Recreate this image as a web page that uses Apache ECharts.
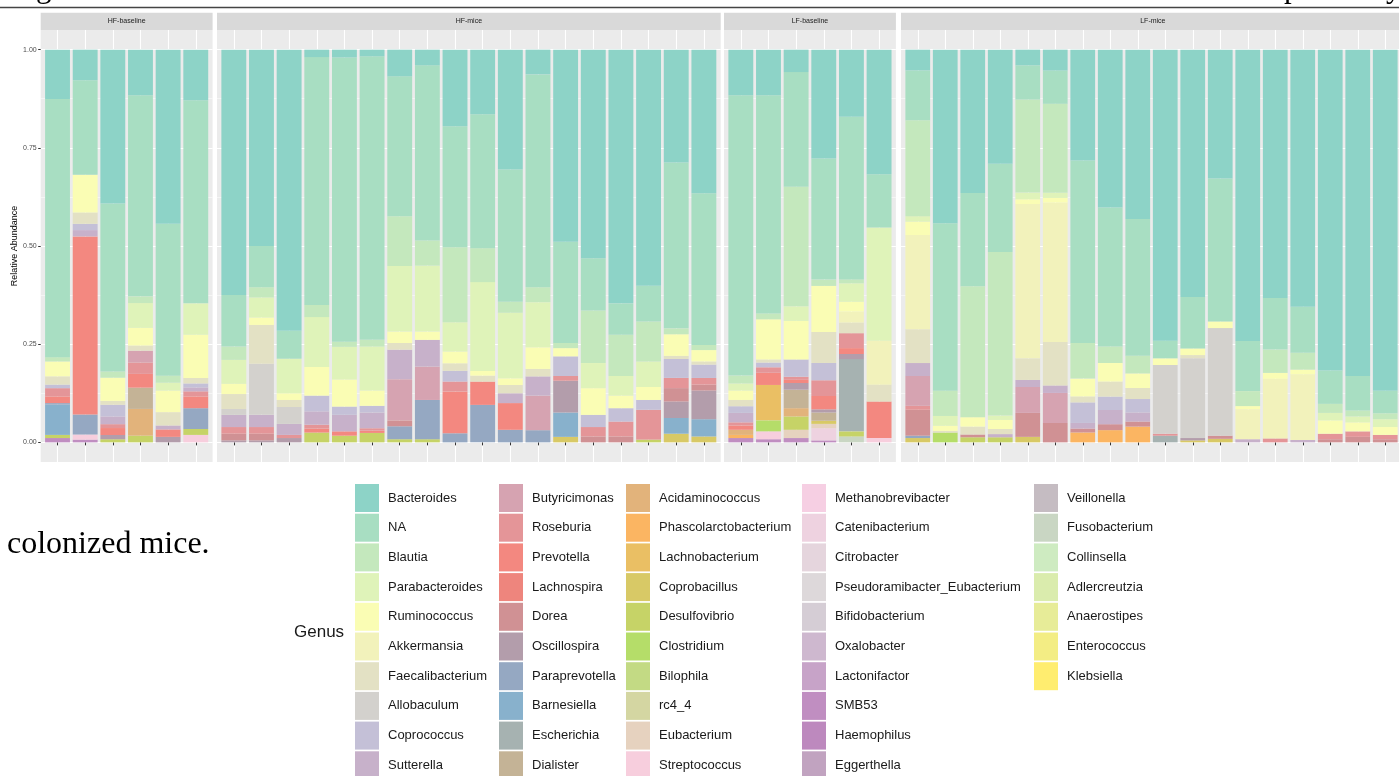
<!DOCTYPE html>
<html>
<head>
<meta charset="utf-8">
<script src="https://cdn.jsdelivr.net/npm/echarts@6/dist/echarts.min.js"></script>
<style>
  html, body { margin: 0; background: #fff; }
  #chart { width: 1399px; height: 776px; }
</style>
</head>
<body>
<div id="chart"></div>
<script>
// samples: HF-baseline 6 | HF-mice 18 | LF-baseline 6 | LF-mice 18
const panelNames = ['HF-baseline', 'HF-mice', 'LF-baseline', 'LF-mice'];
const panelSizes = [6, 18, 6, 18];
const yTicks = [0, 0.25, 0.5, 0.75, 1];
const yMinorTicks = [0.125, 0.375, 0.625, 0.875];

const genera = [
  'Bacteroides', 'NA', 'Blautia', 'Parabacteroides', 'Ruminococcus', 'Akkermansia', 'Faecalibacterium', 'Allobaculum', 'Coprococcus', 'Sutterella',
  'Butyricimonas', 'Roseburia', 'Prevotella', 'Lachnospira', 'Dorea', 'Oscillospira', 'Paraprevotella', 'Barnesiella', 'Escherichia', 'Dialister',
  'Acidaminococcus', 'Phascolarctobacterium', 'Lachnobacterium', 'Coprobacillus', 'Desulfovibrio', 'Clostridium', 'Bilophila', 'rc4_4', 'Eubacterium', 'Streptococcus',
  'Methanobrevibacter', 'Catenibacterium', 'Citrobacter', 'Pseudoramibacter_Eubacterium', 'Bifidobacterium', 'Oxalobacter', 'Lactonifactor', 'SMB53', 'Haemophilus', 'Eggerthella',
  'Veillonella', 'Fusobacterium', 'Collinsella', 'Adlercreutzia', 'Anaerostipes', 'Enterococcus', 'Klebsiella'
];

const bacteroides = [
  .126, .078, .397, .116, .444, .129,
  .625, .500, .716, .019, .020, .017, .068, .040, .194, .164, .305, .063, .489, .531, .646, .601, .287, .366,
  .116, .116, .057, .277, .171, .317,
  .053, .441, .364, .290, .040, .053, .280, .400, .430, .741, .629, .328, .739, .629, .654, .817, .831, .868
];
const na = [
  .657, .241, .434, .511, .387, .517,
  .131, .105, .071, .631, .723, .722, .356, .446, .306, .339, .337, .542, .258, .133, .080, .091, .422, .386,
  .714, .555, .292, .308, .414, .136,
  .127, .425, .237, .224, .087, .084, .461, .352, .347, .045, .131, .364, .127, .131, .117, .085, .088, .057
];
const blautia = [
  .011, 0, .016, .017, .018, 0,
  .034, .026, 0, .031, .013, .017, .127, .064, .190, .086, .028, .038, .013, .134, .105, .102, .015, .013,
  .020, .015, .304, .016, .010, 0,
  .244, .064, .333, .416, .237, .225, .090, .042, .045, 0, 0, 0, .038, .059, .043, .023, .015, .015
];
const parabacteroides = [
  0, 0, 0, .063, .020, .080,
  .061, .051, .088, .127, .083, .112, .167, .168, .074, .225, .167, .115, 0, .064, .050, .065, 0, 0,
  .018, 0, .037, 0, .047, .288,
  .014, .025, 0, .011, .017, .013, 0, 0, 0, 0, 0, 0, 0, 0, 0, .019, .015, .020
];
const ruminococcus = [
  .038, .096, .060, .045, .055, .110,
  .026, .019, .017, .073, .069, .039, .029, .021, .030, .012, .017, .055, .021, .068, .032, .033, .055, .029,
  .024, .102, .098, .117, .025, 0,
  .034, .013, .024, .023, .012, .012, .045, .047, .037, .017, .017, .017, .008, .015, .012, .034, .023, .020
];
const akkermansia = [
  0, 0, 0, 0, 0, 0,
  0, 0, 0, 0, 0, 0, 0, 0, 0, 0, 0, 0, 0, 0, 0, 0, 0, 0,
  0, 0, 0, 0, .028, .112,
  .240, 0, 0, 0, .393, .352, 0, 0, 0, 0, 0, 0, .076, .151, .167, 0, 0, 0
];
const faecalibacterium = [
  .021, .029, .010, .013, .034, .014,
  .038, .099, .018, 0, 0, 0, .017, 0, .019, .015, .021, .019, 0, 0, 0, 0, .008, .008,
  .016, .008, 0, .079, .027, .043,
  .086, .004, .020, .013, .055, .110, .015, .038, .028, 0, .008, 0, 0, 0, 0, 0, 0, 0
];
const allobaculum = [
  0, 0, 0, 0, 0, 0,
  .015, .130, .043, 0, 0, 0, 0, 0, 0, 0, 0, 0, 0, 0, 0, 0, 0, 0,
  0, 0, 0, 0, 0, 0,
  0, 0, 0, 0, 0, 0, 0, 0, 0, .175, .203, .274, 0, 0, 0, 0, 0, 0
];
const coprococcus = [
  .009, .016, .030, 0, 0, .010,
  0, 0, 0, .040, .021, .017, 0, 0, .027, 0, 0, 0, .050, .031, .034, .025, .048, .034,
  .017, .012, .044, .044, 0, 0,
  0, 0, 0, 0, 0, 0, .052, .034, .034, 0, 0, 0, 0, 0, 0, 0, 0, 0
];
const sutterella = [
  0, .016, .020, 0, .010, .010,
  .031, .031, .028, .034, .042, .040, .075, .068, 0, 0, .025, .049, 0, 0, 0, 0, 0, 0,
  .024, 0, 0, 0, 0, 0,
  .033, 0, 0, .008, .018, .019, .014, .036, .023, 0, 0, 0, .008, 0, .006, 0, 0, 0
];
const butyricimonas = [
  0, 0, 0, .030, 0, 0,
  0, 0, 0, 0, 0, 0, .105, .085, 0, 0, 0, .088, 0, 0, 0, 0, 0, 0,
  0, 0, 0, 0, 0, 0,
  .076, 0, 0, 0, .066, .076, 0, 0, 0, 0, 0, 0, 0, 0, 0, 0, 0, 0
];
const roseburia = [
  .021, 0, .010, .029, 0, .013,
  .017, .017, .008, .010, 0, .006, 0, 0, .025, 0, 0, 0, .012, .024, .038, .076, .026, .017,
  .008, .014, .008, .040, .038, 0,
  .010, 0, 0, 0, 0, 0, 0, 0, 0, .005, 0, 0, 0, .010, 0, .014, .014, .011
];
const prevotella = [
  .017, .454, .018, .035, .019, .030,
  0, 0, 0, .010, .011, .006, 0, 0, .106, .059, .068, 0, 0, 0, 0, 0, 0, 0,
  .011, .031, .008, .034, .015, .093,
  0, 0, 0, 0, 0, 0, 0, 0, 0, 0, 0, 0, 0, 0, 0, 0, 0, 0
];
const dorea = [
  0, 0, 0, 0, 0, 0,
  .017, .017, 0, 0, 0, 0, .015, 0, 0, 0, 0, 0, 0, .015, .015, 0, .034, .015,
  0, 0, 0, 0, 0, 0,
  .066, 0, .007, 0, .061, .049, .010, .015, .013, 0, 0, .008, 0, 0, 0, .008, .014, .008
];
const oscillospira = [
  0, 0, .011, 0, .014, 0,
  .005, .005, .011, 0, 0, 0, 0, 0, 0, 0, 0, 0, .081, 0, 0, 0, .042, .073,
  0, 0, .017, .008, .013, 0,
  0, 0, 0, 0, 0, 0, 0, 0, 0, 0, .006, 0, 0, 0, 0, 0, 0, 0
];
const paraprevotella = [
  .004, .051, 0, 0, 0, .053,
  0, 0, 0, 0, 0, 0, .033, .100, .023, .095, .032, .031, 0, 0, 0, 0, 0, 0,
  0, 0, 0, 0, 0, 0,
  .006, 0, 0, 0, 0, 0, 0, 0, 0, 0, 0, 0, 0, 0, 0, 0, 0, 0
];
const barnesiella = [
  .077, 0, 0, 0, 0, 0,
  0, 0, 0, 0, 0, 0, 0, 0, 0, 0, 0, 0, .062, 0, 0, 0, .040, .044,
  0, 0, 0, 0, 0, 0,
  0, 0, 0, 0, 0, 0, 0, 0, 0, 0, 0, 0, 0, 0, 0, 0, 0, 0
];
const escherichia = [
  0, 0, 0, 0, 0, 0,
  0, 0, 0, 0, 0, 0, 0, 0, 0, 0, 0, 0, 0, 0, 0, 0, 0, 0,
  0, 0, 0, 0, .184, 0,
  0, 0, 0, 0, 0, 0, 0, 0, 0, .017, 0, 0, 0, 0, 0, 0, 0, 0
];
const dialister = [
  0, 0, 0, .054, 0, 0,
  0, 0, 0, 0, 0, 0, 0, 0, 0, 0, 0, 0, 0, 0, 0, 0, 0, 0,
  0, 0, .047, .021, 0, 0,
  0, 0, 0, 0, 0, 0, 0, 0, 0, 0, 0, 0, 0, 0, 0, 0, 0, 0
];
const acidaminococcus = [
  0, 0, 0, .068, 0, 0,
  0, 0, 0, 0, 0, 0, 0, 0, 0, 0, 0, 0, 0, 0, 0, 0, 0, 0,
  .013, 0, .021, 0, 0, 0,
  0, 0, 0, 0, 0, 0, 0, 0, 0, 0, 0, 0, 0, 0, 0, 0, 0, 0
];
const phascolarctobacterium = [
  0, 0, 0, 0, 0, 0,
  0, 0, 0, 0, 0, 0, 0, 0, 0, 0, 0, 0, 0, 0, 0, 0, 0, 0,
  .008, 0, 0, 0, 0, 0,
  0, 0, 0, 0, 0, 0, .025, .031, .040, 0, 0, 0, 0, 0, 0, 0, 0, 0
];
const lachnobacterium = [
  0, 0, 0, 0, 0, 0,
  0, 0, 0, 0, 0, 0, 0, 0, 0, 0, 0, 0, 0, 0, 0, 0, 0, 0,
  0, .090, 0, 0, 0, 0,
  0, 0, 0, 0, 0, 0, 0, 0, 0, 0, 0, 0, 0, 0, 0, 0, 0, 0
];
const coprobacillus = [
  0, 0, 0, 0, 0, 0,
  0, 0, 0, 0, 0, 0, 0, 0, 0, 0, 0, 0, .014, 0, 0, 0, .022, .015,
  0, 0, 0, .008, 0, 0,
  .011, 0, 0, 0, .014, 0, 0, 0, 0, 0, .005, .009, 0, 0, 0, 0, 0, 0
];
const desulfovibrio = [
  .008, 0, .008, .017, 0, .015,
  0, 0, 0, .025, .017, .024, .008, .008, 0, 0, 0, 0, 0, 0, 0, .007, 0, 0,
  0, 0, .034, 0, .013, 0,
  0, 0, .013, .013, 0, 0, 0, 0, 0, 0, 0, 0, 0, 0, 0, 0, 0, 0
];
const clostridium = [
  0, 0, 0, 0, 0, 0,
  0, 0, 0, 0, 0, 0, 0, 0, 0, 0, 0, 0, 0, 0, 0, 0, 0, 0,
  0, .028, 0, 0, 0, 0,
  0, .025, 0, 0, 0, 0, 0, 0, 0, 0, 0, 0, 0, 0, 0, 0, 0, 0
];
const eubacterium = [
  0, 0, 0, 0, 0, 0,
  0, 0, 0, 0, 0, 0, 0, 0, 0, 0, 0, 0, 0, 0, 0, 0, 0, 0,
  0, 0, .021, .011, 0, 0,
  0, 0, 0, 0, 0, 0, 0, 0, 0, 0, 0, 0, 0, 0, 0, 0, 0, 0
];
const streptococcus = [
  0, .013, 0, 0, 0, .019,
  0, 0, 0, 0, 0, 0, 0, 0, 0, 0, 0, 0, 0, 0, 0, 0, 0, 0,
  0, .020, 0, 0, 0, .011,
  0, 0, 0, 0, 0, 0, 0, 0, 0, 0, 0, 0, 0, 0, 0, 0, 0, 0
];
const catenibacterium = [
  0, 0, 0, 0, 0, 0,
  0, 0, 0, 0, 0, 0, 0, 0, 0, 0, 0, 0, 0, 0, 0, 0, 0, 0,
  0, 0, 0, .031, 0, 0,
  0, 0, 0, 0, 0, 0, 0, 0, 0, 0, 0, 0, 0, 0, 0, 0, 0, 0
];
const smb53 = [
  .011, .007, 0, 0, 0, 0,
  0, 0, 0, 0, 0, 0, 0, 0, 0, 0, 0, 0, 0, 0, 0, 0, 0, 0,
  .011, .008, .011, .005, 0, 0,
  0, 0, 0, 0, 0, 0, 0, 0, 0, 0, 0, 0, 0, 0, 0, 0, 0, 0
];
const fusobacterium = [
  0, 0, 0, 0, 0, 0,
  0, 0, 0, 0, 0, 0, 0, 0, 0, 0, 0, 0, 0, 0, 0, 0, 0, 0,
  0, 0, 0, 0, .015, 0,
  0, 0, 0, 0, 0, 0, 0, 0, 0, 0, 0, 0, 0, 0, 0, 0, 0, 0
];

const abundance = {
  Bacteroides: bacteroides, NA: na, Blautia: blautia, Parabacteroides: parabacteroides,
  Ruminococcus: ruminococcus, Akkermansia: akkermansia, Faecalibacterium: faecalibacterium,
  Allobaculum: allobaculum, Coprococcus: coprococcus, Sutterella: sutterella,
  Butyricimonas: butyricimonas, Roseburia: roseburia, Prevotella: prevotella, Dorea: dorea,
  Oscillospira: oscillospira, Paraprevotella: paraprevotella, Barnesiella: barnesiella,
  Escherichia: escherichia, Dialister: dialister, Acidaminococcus: acidaminococcus,
  Phascolarctobacterium: phascolarctobacterium, Lachnobacterium: lachnobacterium,
  Coprobacillus: coprobacillus, Desulfovibrio: desulfovibrio, Clostridium: clostridium,
  Eubacterium: eubacterium, Streptococcus: streptococcus, Catenibacterium: catenibacterium,
  SMB53: smb53, Fusobacterium: fusobacterium
};

// Set3 palette stretched to 47 colours, like colorRampPalette in R
const set3 = ['#8DD3C7', '#FFFFB3', '#BEBADA', '#FB8072', '#80B1D3', '#FDB462',
  '#B3DE69', '#FCCDE5', '#D9D9D9', '#BC80BD', '#CCEBC5', '#FFED6F'];
function ramp(stops, n) {
  const rgb = stops.map(h => [1, 3, 5].map(i => parseInt(h.slice(i, i + 2), 16)));
  const out = [];
  for (let i = 0; i < n; i++) {
    const t = i * (stops.length - 1) / (n - 1);
    const k = Math.min(Math.floor(t), stops.length - 2);
    const f = t - k;
    const c = rgb[k].map((v, j) => Math.round(v + (rgb[k + 1][j] - v) * f));
    out.push('rgb(' + c.join(',') + ')');
  }
  return out;
}
const colors = ramp(set3, genera.length);

// relative abundance: each sample scaled to sum 1
const nSamples = bacteroides.length;
const totals = [];
for (let i = 0; i < nSamples; i++) {
  let s = 0;
  genera.forEach(g => { if (abundance[g]) s += abundance[g][i]; });
  totals.push(s);
}

// panel geometry (pixels)
const panelLeft = [40.7, 217, 724, 901];
const panelTop = 30, panelHeight = 432;
const pad = 3, step = 27.65;

const grid = [], xAxis = [], yAxis = [], series = [], graphic = [];
let offset = 0;
panelNames.forEach((name, p) => {
  const n = panelSizes[p];
  const pw = n * step + 2 * pad;
  const L = panelLeft[p];
  // background grid carries horizontal grid lines
  grid.push({ left: L, top: panelTop, width: pw, height: panelHeight, show: true, backgroundColor: '#EBEBEB', borderWidth: 0 });
  // bar grid
  grid.push({ left: L + pad, top: panelTop, width: n * step, height: panelHeight });
  xAxis.push({ type: 'value', gridIndex: 2 * p, show: false });
  xAxis.push({
    type: 'category', gridIndex: 2 * p + 1,
    data: Array.from({ length: n }, (_, i) => name + ' ' + (i + 1)),
    axisLine: { show: false },
    axisTick: { show: true, interval: 0, alignWithLabel: true, length: 3, lineStyle: { color: '#333', width: 1 } },
    axisLabel: { show: false, interval: 0 },
    splitLine: { show: true, interval: 0, alignWithLabel: true, lineStyle: { color: '#fff', width: 1.1 } }
  });
  const first = p === 0;
  yAxis.push({
    type: 'value', gridIndex: 2 * p, min: -0.05, max: 1.05,
    axisLine: { show: false },
    axisTick: { show: first, customValues: yTicks, length: 2.5, lineStyle: { color: '#333' } },
    axisLabel: { show: first, customValues: yTicks, fontSize: 7, color: '#4D4D4D', margin: 4, fontFamily: 'Liberation Sans',
      formatter: v => v.toFixed(2) },
    splitLine: { show: true, lineStyle: { color: '#fff', width: 1.1 } }
  });
  yAxis.push({
    type: 'value', gridIndex: 2 * p, min: -0.05, max: 1.05,
    axisLine: { show: false },
    axisTick: { show: false, customValues: yMinorTicks },
    axisLabel: { show: false, customValues: yMinorTicks },
    splitLine: { show: true, lineStyle: { color: '#fff', width: 0.5 } }
  });
  yAxis.push({ type: 'value', gridIndex: 2 * p + 1, min: -0.05, max: 1.05, show: false });

  // strip
  graphic.push({ type: 'rect', shape: { x: L, y: 12.7, width: pw, height: 17.3 }, style: { fill: '#D9D9D9' } });
  graphic.push({ type: 'text', x: L + pw / 2, y: 21.5,
    style: { text: name, fontSize: 7, fill: '#1A1A1A', fontFamily: 'Liberation Sans', align: 'center', verticalAlign: 'middle' } });

  // stacked bars, first genus on top
  for (let g = genera.length - 1; g >= 0; g--) {
    const vals = abundance[genera[g]];
    series.push({
      type: 'bar', name: genera[g], xAxisIndex: 2 * p + 1, yAxisIndex: 3 * p + 2,
      stack: 'panel' + p, barWidth: '90%',
      itemStyle: { color: colors[g] },
      emphasis: { disabled: true },
      data: Array.from({ length: n }, (_, i) => vals ? vals[offset + i] / totals[offset + i] : 0)
    });
  }
  offset += n;
});

// page furniture around the figure
graphic.push({ type: 'line', shape: { x1: 0, y1: 7.5, x2: 1399, y2: 7.5 }, style: { stroke: '#444', lineWidth: 1.5 } });
[['g', 36], ['p', 1284], ['y', 1386]].forEach(([t, x]) => {
  graphic.push({ type: 'text', x: x, y: 4,
    style: { text: t, fontSize: 31, fill: '#000', fontFamily: 'Liberation Serif', verticalAlign: 'bottom' } });
});
graphic.push({ type: 'text', x: 7, y: 545,
  style: { text: 'colonized mice.', fontSize: 32, fill: '#000', fontFamily: 'Liberation Serif', verticalAlign: 'middle' } });
graphic.push({ type: 'text', x: 15, y: 246, rotation: Math.PI / 2,
  style: { text: 'Relative Abundance', fontSize: 9, fill: '#000', fontFamily: 'Liberation Sans', align: 'center', verticalAlign: 'middle' } });
graphic.push({ type: 'text', x: 294, y: 632,
  style: { text: 'Genus', fontSize: 17, fill: '#1A1A1A', fontFamily: 'Liberation Sans', verticalAlign: 'middle' } });

const legendLefts = [355, 499, 626, 802, 1034];
const legend = legendLefts.map((left, c) => ({
  orient: 'vertical', left: left, top: 484, height: 330, padding: 0,
  data: genera.slice(c * 10, c * 10 + 10),
  icon: 'rect', itemWidth: 24, itemHeight: 28, itemGap: 1.7,
  selectedMode: false,
  textStyle: { fontSize: 13, color: '#1A1A1A', fontFamily: 'Liberation Sans', padding: [0, 0, 0, 4] }
}));

const chart = echarts.init(document.getElementById('chart'));
chart.setOption({
  animation: false,
  backgroundColor: '#fff',
  grid: grid,
  xAxis: xAxis,
  yAxis: yAxis,
  legend: legend,
  graphic: graphic,
  series: series
});
</script>
</body>
</html>
